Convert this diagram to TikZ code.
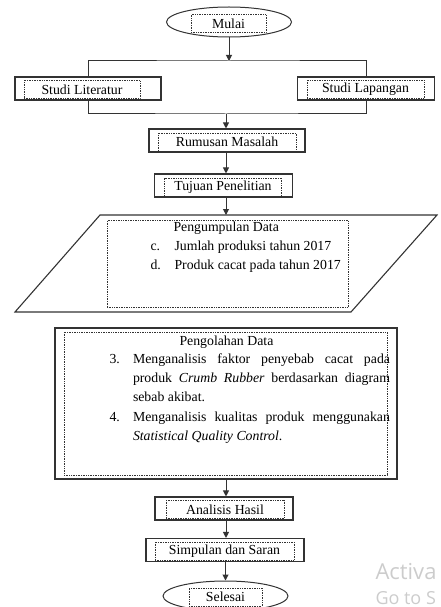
\documentclass[tikz,border=0pt]{standalone}
\usepackage{fontspec}
\setmainfont{Liberation Serif}
\newfontfamily\wmfont{Open Sans}
\usetikzlibrary{shapes.geometric,arrows.meta}
\hyphenpenalty=10000
\exhyphenpenalty=10000

\begin{document}
\begin{tikzpicture}
  [x=1pt,y=-1pt,line width=1pt,draw=black!80,
   every node/.style={font=\fontsize{13.8}{19}\selectfont,inner sep=0pt},
   kotak/.style={draw,line width=1.1pt,minimum height=23},
   elips/.style={draw,ellipse,line width=1pt,minimum width=125,minimum height=30},
   bingkai/.style={draw,densely dotted,line width=.7pt,minimum height=18},
   panah/.style={-{Triangle[width=6pt,length=6pt]}}]
  \useasboundingbox (0,0) rectangle (441,607);

  \node[elips] (mulai) at (229,22) {};
  \node[bingkai,minimum width=75] (tMulai) at (228.5,23.5) {Mulai};

  \node[kotak,minimum width=146] (literatur) at (88,88.5) {};
  \node[bingkai,minimum width=116] (tLiteratur) at (82,89.5) {Studi Literatur};
  \node[kotak,minimum width=137] (lapangan) at (366,88.5) {};
  \node[bingkai,minimum width=117] (tLapangan) at (365.5,89.5) {Studi Lapangan};

  \node[kotak,minimum width=156] (rumusan) at (227,140.5) {};
  \node[bingkai,minimum width=138] (tRumusan) at (227,142) {Rumusan Masalah};
  \node[kotak,minimum width=138] (tujuan) at (223.5,185.5) {};
  \node[bingkai,minimum width=117] (tTujuan) at (223,187) {Tujuan Penelitian};

  % pengumpulan data
  \coordinate (kumpulAtas) at (226,215);
  \draw[line width=1.1pt] (100,215) -- (437,215) -- (351,312) -- (15,312) -- cycle;
  \node[bingkai,minimum width=241,minimum height=87] (kumpul) at (227.5,264) {};
  \node[anchor=base west] (kumpulJudul) at (173,231.5) {Pengumpulan Data};
  \node[anchor=base west] (c) at (150,250.5) {c.};
  \node[anchor=base west] (jumlah) at (174,250.5) {Jumlah produksi tahun 2017};
  \node[anchor=base west] (d) at (150,269.5) {d.};
  \node[anchor=base west] (cacat) at (174,269.5) {Produk cacat pada tahun 2017};

  % pengolahan data
  \node[kotak,minimum width=342,minimum height=151] (olah) at (226,403.5) {};
  \node[bingkai,minimum width=323,minimum height=143] (tOlah) at (225.5,403.5) {};
  \node[anchor=base west] (olahJudul) at (179,345) {Pengolahan Data};
  \node[anchor=base west] (no3) at (109,363) {3.};
  \node[anchor=base west,text width=257,align=justify] (butir3) at (132.5,363)
    {Menganalisis faktor penyebab cacat pada produk \textit{Crumb Rubber} berdasarkan diagram sebab akibat.};
  \node[anchor=base west] (no4) at (109,421) {4.};
  \node[anchor=base west,text width=257,align=justify] (butir4) at (132.5,421)
    {Menganalisis kualitas produk menggunakan \textit{Statistical Quality Control}.};

  \node[kotak,minimum width=138] (analisis) at (224,508.5) {};
  \node[bingkai,minimum width=118] (tAnalisis) at (225,509.5) {Analisis Hasil};
  \node[kotak,minimum width=158] (simpulan) at (225,550) {};
  \node[bingkai,minimum width=139] (tSimpulan) at (224.5,551) {Simpulan dan Saran};
  \node[elips] (selesai) at (225.5,596) {};
  \node[bingkai,minimum width=73] (tSelesai) at (225.5,597) {Selesai};

  \coordinate (cabang) at (229,61);
  \coordinate (gabung) at (226,114);
  \draw[panah] (mulai) -- (cabang);
  \draw (literatur.north) |- (cabang) -| (lapangan.north);
  \draw (literatur.south) |- (gabung) -| (lapangan.south);
  \draw[panah] (gabung) -- (gabung |- rumusan.north);
  \draw[panah] (rumusan.south -| gabung) -- (tujuan.north -| gabung);
  \draw[panah] (tujuan.south -| gabung) -- (kumpulAtas);
  \draw[panah] (olah.south -| gabung) -- (analisis.north -| gabung);
  \draw[panah] (analisis.south -| gabung) -- (simpulan.north -| gabung);
  \draw[panah] (simpulan.south -| selesai) -- (selesai);

  \node[anchor=base west,font=\wmfont\fontsize{22}{22}\selectfont,text=black!20] (aktif) at (375,579) {Activa};
  \node[anchor=base west,font=\wmfont\fontsize{18}{18}\selectfont,text=black!20] (pengaturan) at (375,604) {Go to S};
\end{tikzpicture}
\end{document}
